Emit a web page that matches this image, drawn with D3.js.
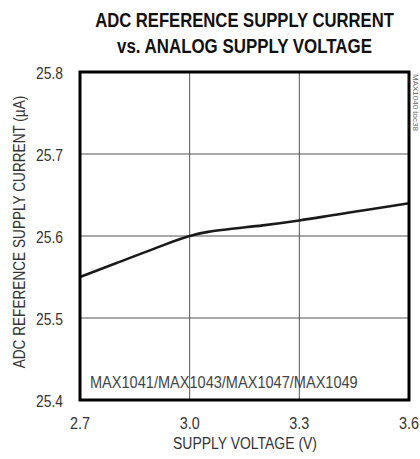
<!DOCTYPE html>
<html><head><meta charset="utf-8">
<script src="https://cdn.jsdelivr.net/npm/d3@7"></script>
<style>
body{margin:0;background:#fff;}
text{font-family:"Liberation Sans Narrow","Arial Narrow","Liberation Sans",Arial,sans-serif;}
</style></head>
<body><svg id="c" width="420" height="459"></svg>
<script>
const voltage = [2.7, 2.8, 2.9, 3.0, 3.05, 3.1, 3.2, 3.3, 3.4, 3.5, 3.6];
const current = [25.55, 25.567, 25.584, 25.6, 25.605, 25.608, 25.613, 25.619, 25.626, 25.633, 25.64];
const xTicks = [2.7, 3.0, 3.3, 3.6];
const yTicks = [25.4, 25.5, 25.6, 25.7, 25.8];
const titleLines = ["ADC REFERENCE SUPPLY CURRENT", "vs. ANALOG SUPPLY VOLTAGE"];

const svg = d3.select("#c");
const L = 80, R = 409, T = 72, B = 400;
const x = d3.scaleLinear().domain([2.7, 3.6]).range([L, R]);
const y = d3.scaleLinear().domain([25.4, 25.8]).range([B, T]);

// place condensed text: anchor point (px,py), rotation, target width
function label(str, px, py, opts) {
  const g = svg.append("g").attr("transform", `translate(${px},${py}) rotate(${opts.rot||0})`);
  const t = g.append("text").attr("x",0).attr("y",0)
    .attr("text-anchor", opts.anchor || "start")
    .attr("font-size", opts.size).attr("font-weight", opts.weight || "normal")
    .attr("fill", opts.fill || "#333").text(str);
  const nat = t.node().getComputedTextLength();
  const sx = opts.w ? opts.w / nat : (opts.sx || 1);
  t.attr("transform", `scale(${sx},1)`);
  return t;
}

// title
const tl = [{y:27,w:299},{y:53,w:255}];
titleLines.forEach((s,i)=>label(s, 244.5, tl[i].y, {anchor:"middle", size:21, weight:"bold", w:tl[i].w, fill:"#111"}));

// grid
svg.append("g").selectAll("line").data(xTicks.slice(1,-1)).join("line")
  .attr("x1",d=>x(d)).attr("x2",d=>x(d)).attr("y1",T).attr("y2",B)
  .attr("stroke","#555").attr("stroke-width",1);
svg.append("g").selectAll("line").data(yTicks.slice(1,-1)).join("line")
  .attr("y1",d=>y(d)).attr("y2",d=>y(d)).attr("x1",L).attr("x2",R)
  .attr("stroke","#555").attr("stroke-width",1);

// curve
svg.append("path").datum(voltage.map((v,i)=>[v,current[i]]))
  .attr("fill","none").attr("stroke","#1a1a1a").attr("stroke-width",2.6)
  .attr("d", d3.line().x(d=>x(d[0])).y(d=>y(d[1])).curve(d3.curveMonotoneX));

// frame
svg.append("rect").attr("x",L).attr("y",T).attr("width",R-L).attr("height",B-T)
  .attr("fill","none").attr("stroke","#000").attr("stroke-width",3);

// tick labels
yTicks.forEach(d=>label(d.toFixed(1), 63, y(d)+7, {anchor:"end", size:17, w:27}));
xTicks.forEach(d=>label(d.toFixed(1), x(d), 429, {anchor:"middle", size:17, w:20}));

// axis titles
label("SUPPLY VOLTAGE (V)", 245, 449, {anchor:"middle", size:17, w:144});
label("ADC REFERENCE SUPPLY CURRENT (\u00b5A)", 25, 232, {anchor:"middle", size:17, w:273, rot:-90});

// annotation
label("MAX1041/MAX1043/MAX1047/MAX1049", 90, 388, {size:17, w:268, fill:"#444"});
label("MAX1040 toc38", 413, 74, {size:8, rot:90, fill:"#666"});
</script></body></html>
